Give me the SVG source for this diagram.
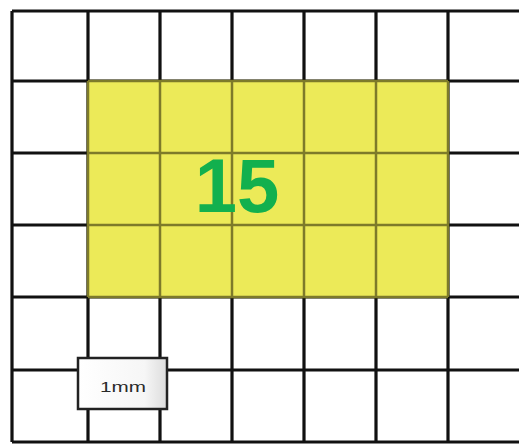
<svg xmlns="http://www.w3.org/2000/svg" width="519" height="444" viewBox="0 0 519 444">
  <defs>
    <style>
      .grid { stroke: #111; stroke-width: 3.2; fill: none; }
      .inner { stroke: #7d7a2a; stroke-width: 2.5; fill: none; }
      .num { font-family: "Liberation Sans", Arial, sans-serif; font-weight: bold; fill: #12b04e; }
      .lbl { font-family: "Liberation Sans", Arial, sans-serif; fill: #2a2a2a; }
    </style>
    <linearGradient id="lg" x1="0" y1="0" x2="1" y2="0">
      <stop offset="0" stop-color="#ffffff"/>
      <stop offset="0.75" stop-color="#f6f6f6"/>
      <stop offset="1" stop-color="#dcdcdc"/>
    </linearGradient>
  </defs>
  <rect width="519" height="444" fill="#ffffff"/>
  <g id="grid">
    <path class="grid" d="M12 11V442 M88 11V442 M160 11V442 M232 11V442 M304 11V442 M376 11V442 M448 11V442 M12 11H519 M12 81H519 M12 153H519 M12 225H519 M12 297H519 M12 370H519 M12 442H519"/>
  </g>
  <g id="shaded">
    <rect x="88" y="81" width="360" height="216" fill="#eceA58"/>
    <path class="inner" d="M88 81H448 M88 153H448 M88 225H448 M88 297H448 M88 81V297 M160 81V297 M232 81V297 M304 81V297 M376 81V297 M448 81V297"/>
    <text class="num" x="237" y="212" font-size="76" text-anchor="middle">15</text>
  </g>
  <g id="label">
    <rect x="78" y="358" width="89" height="51" fill="url(#lg)" stroke="#222" stroke-width="2.5"/>
    <text class="lbl" x="100" y="392" font-size="14" textLength="46" lengthAdjust="spacingAndGlyphs">1mm</text>
  </g>
</svg>
